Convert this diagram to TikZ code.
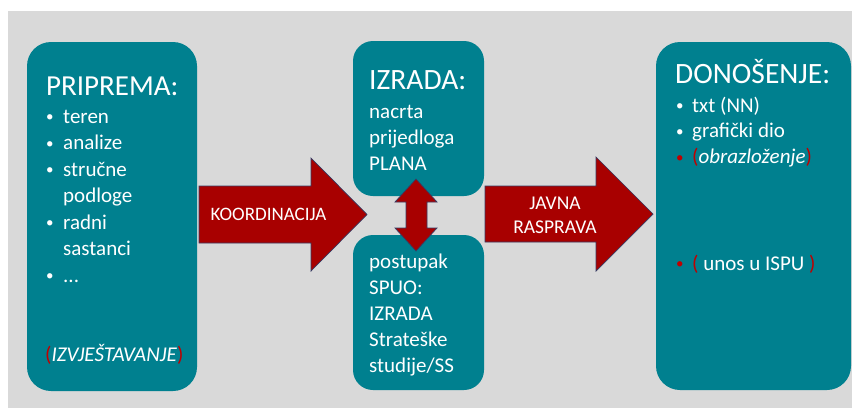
\documentclass[tikz,border=0pt]{standalone}
\usepackage{fontspec}
\setmainfont{Carlito}
\definecolor{boxteal}{RGB}{0,128,143}
\definecolor{bgray}{RGB}{217,217,217}
\definecolor{ared}{RGB}{168,0,0}
\definecolor{pred}{RGB}{192,0,0}
\definecolor{aline}{RGB}{55,60,100}
\tikzset{
  box/.style={fill=boxteal, draw=none, rounded corners=24pt, inner sep=0pt},
  sbox/.style={fill=boxteal, draw=none, rounded corners=20pt, inner sep=0pt},
  txt/.style={anchor=base west, inner sep=0pt, text=white, font=\fontsize{21}{26}\selectfont},
  ttl/.style={anchor=base west, inner sep=0pt, text=white, font=\fontsize{29.5}{34}\selectfont},
  blk/.style={fill=ared, draw=aline, line width=0.7pt, line join=miter},
  alab/.style={inner sep=0pt, text=white, font=\fontsize{19}{24}\selectfont, align=center},
  bul/.style={anchor=base west, inner sep=0pt, text=white, yshift=1.5pt, font=\fontsize{15}{20}\selectfont},
}
\begin{document}
\begin{tikzpicture}[x=1pt,y=-1pt]
\useasboundingbox (0,0) rectangle (853,408);
\fill[white] (0,0) rectangle (853,408);
\fill[bgray] (8,11) rectangle (852,408);

% boxes
\node[box, minimum width=170pt, minimum height=349pt] (pri) at (112,216.5) {};
\node[sbox, minimum width=131pt, minimum height=155pt] (izr) at (418.5,118.5) {};
\node[sbox, minimum width=131pt, minimum height=155pt] (spu) at (418.5,312.5) {};
\node[box, minimum width=195pt, minimum height=348pt] (don) at (753.5,216) {};

% block arrows
\coordinate (k0) at (199,186);
\draw[blk] (k0) -- (311,186) -- (311,158) -- (367,214.5) -- (311,271) -- (311,243) -- (199,243) -- cycle;
\coordinate (j0) at (485,186);
\draw[blk] (j0) -- (596,186) -- (596,157) -- (653,214) -- (596,271) -- (596,242) -- (485,242) -- cycle;
\draw[blk] (416,179) -- (437,202) -- (427,202) -- (427,228) -- (437,228) -- (416,251) -- (395,228) -- (406,228) -- (406,202) -- (395,202) -- cycle;

\node[alab, anchor=base] (koord) at (268.5,220.5) {KOORDINACIJA};
\node[alab, anchor=base, font=\fontsize{19.5}{24}\selectfont] (javna) at (555,209) {JAVNA};
\node[alab, anchor=base, font=\fontsize{19.5}{24}\selectfont] (rasp) at (555,233) {RASPRAVA};

% left box text
\node[ttl, font=\fontsize{29}{34}\selectfont] (t1) at (46,95) {PRIPREMA:};
\node[bul] (lb1) at (46,123) {•};
\node[txt] (lt1) at (63,123) {teren};
\node[bul] (lb2) at (46,149.5) {•};
\node[txt] (lt2) at (63,149.5) {analize};
\node[bul] (lb3) at (46,176) {•};
\node[txt] (lt3) at (63,176) {stručne};
\node[txt] (lt4) at (63,202.5) {podloge};
\node[bul] (lb5) at (46,229) {•};
\node[txt] (lt5) at (63,229) {radni};
\node[txt] (lt6) at (63,255.5) {sastanci};
\node[bul] (lb7) at (46,282) {•};
\node[txt] (lt7) at (63,282) {...};
\node[txt] (izv) at (45,361) {\textcolor{pred}{(}\textit{IZVJEŠTAVANJE}\textcolor{pred}{)}};

% middle top
\node[ttl] (t2) at (369,89) {IZRADA:};
\node[txt] (m1) at (369,118) {nacrta};
\node[txt] (m2) at (369,144) {prijedloga};
\node[txt] (m3) at (369,170) {PLANA};

% middle bottom
\node[txt] (n1) at (369,268) {postupak};
\node[txt] (n2) at (369,294) {SPUO:};
\node[txt] (n3) at (369,320) {IZRADA};
\node[txt] (n4) at (369,346.5) {Strateške};
\node[txt] (n5) at (369,372.5) {studije/SS};

% right box
\node[ttl] (t3) at (675,83) {DONOŠENJE:};
\node[bul] (rb1) at (676,112) {•};
\node[txt] (r1) at (692,112) {txt (NN)};
\node[bul] (rb2) at (676,137.5) {•};
\node[txt] (r2) at (692,137.5) {grafički dio};
\node[bul, text=pred] (rb3) at (676,163.5) {•};
\node[txt] (r3) at (692,163.5) {\textcolor{pred}{(}\textit{obrazloženje}\textcolor{pred}{)}};
\node[bul, text=pred] (rb4) at (676,270) {•};
\node[txt] (r4) at (692,270) {\textcolor{pred}{(} unos u ISPU \textcolor{pred}{)}};
\end{tikzpicture}
\end{document}
